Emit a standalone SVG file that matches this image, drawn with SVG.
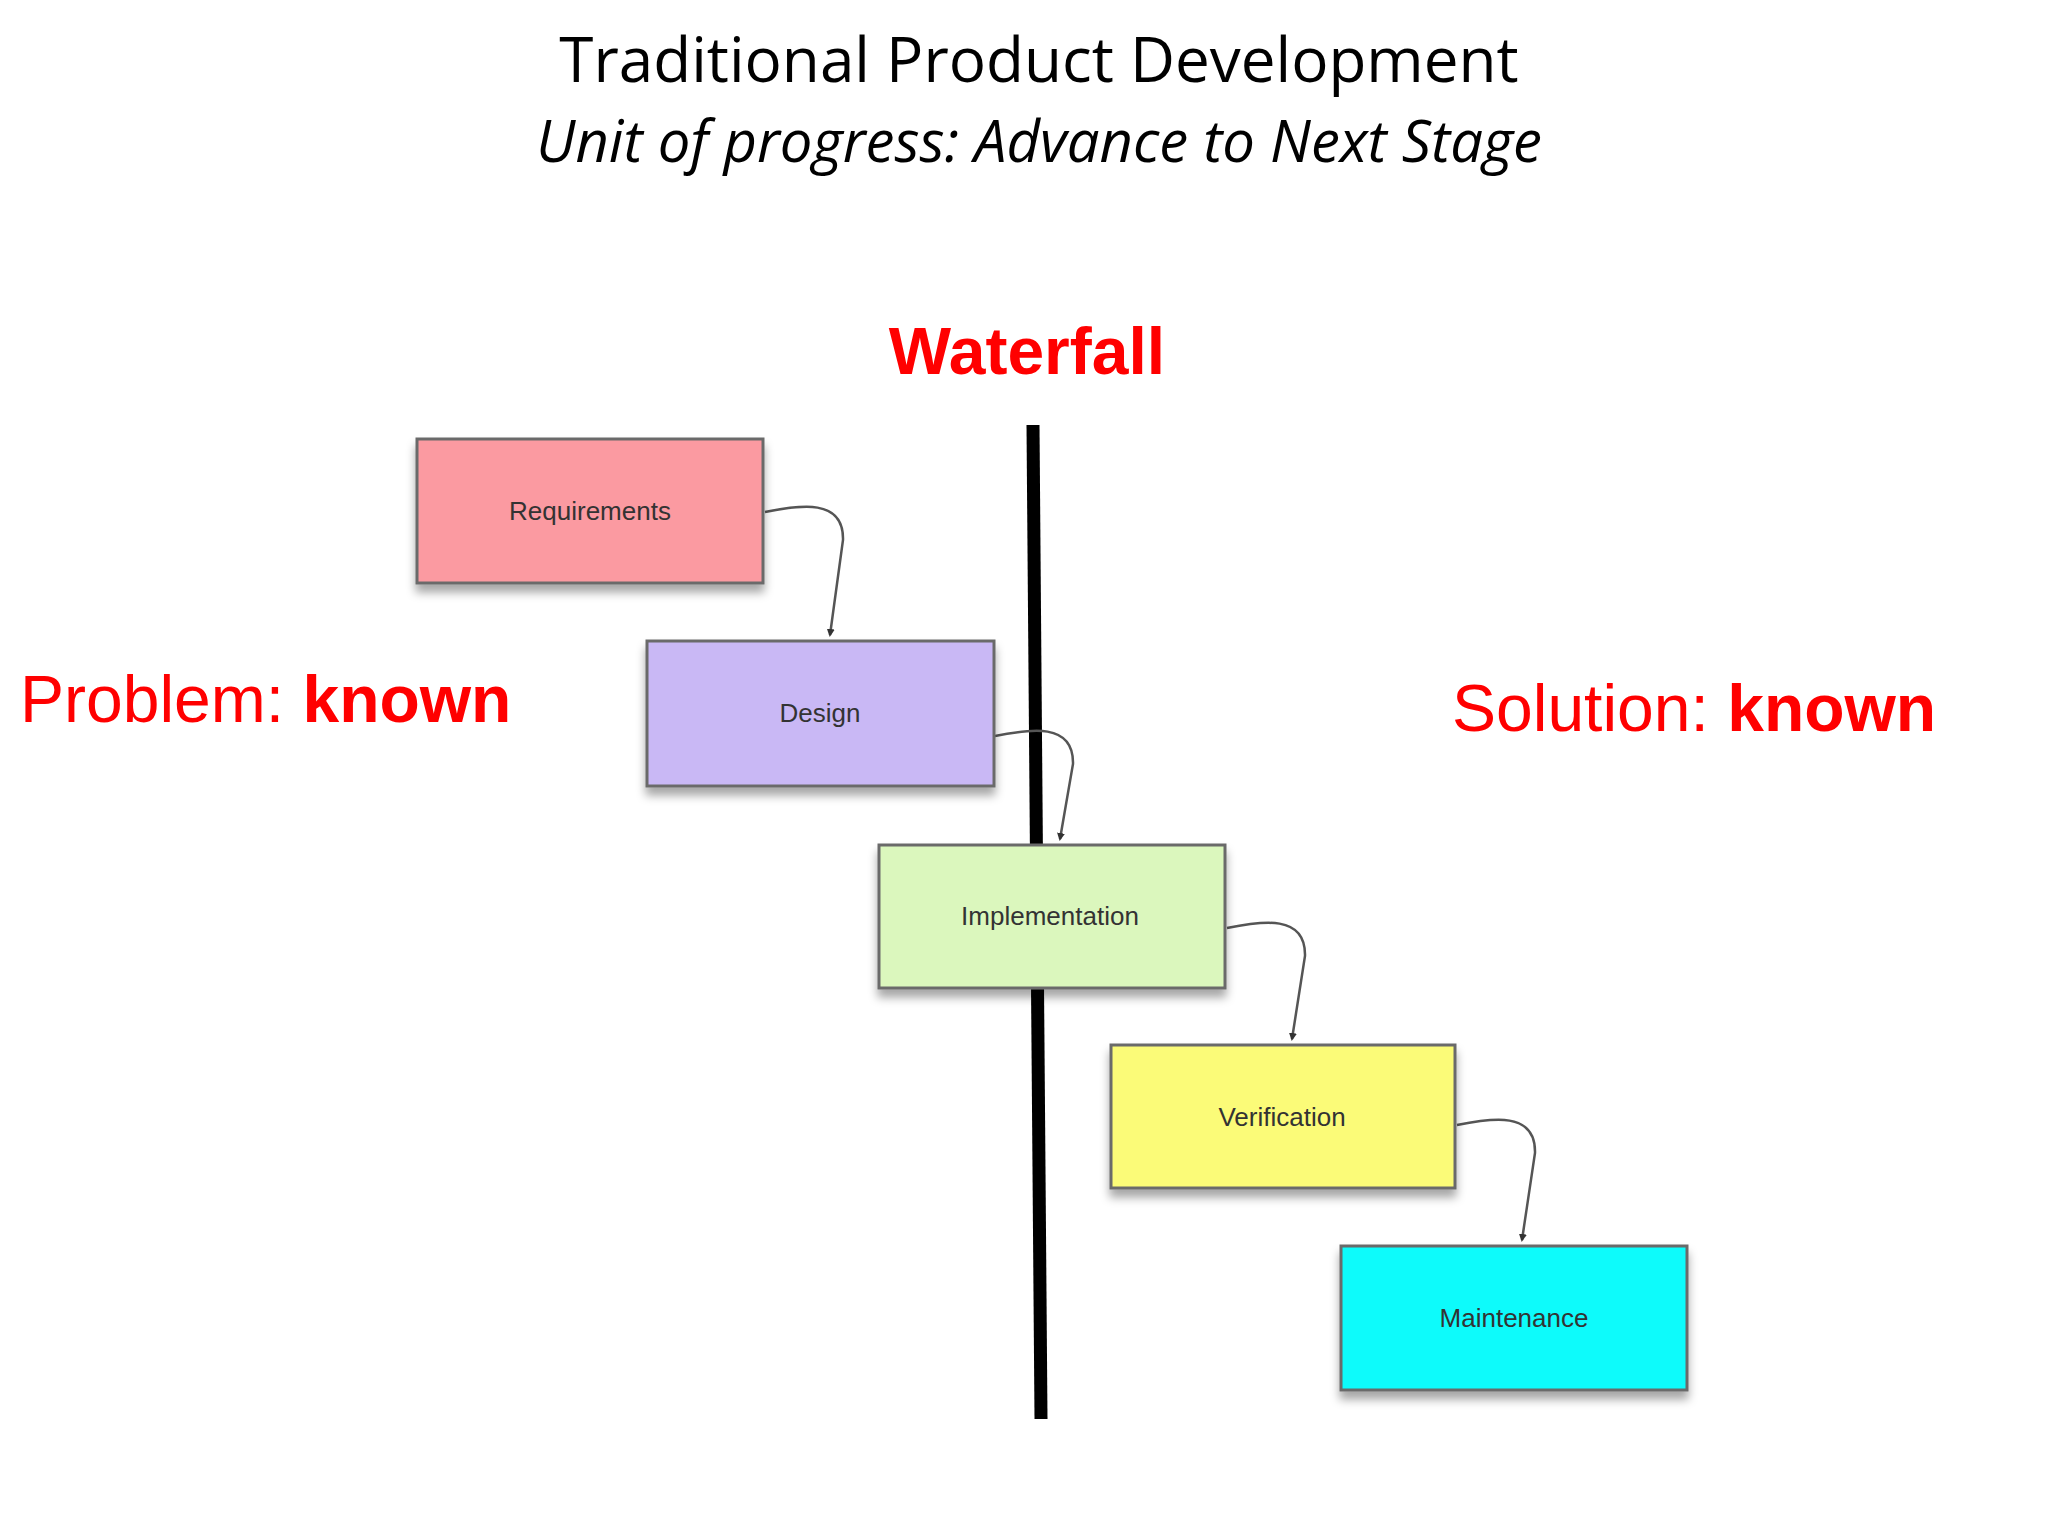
<svg xmlns="http://www.w3.org/2000/svg" width="2048" height="1536" viewBox="0 0 2048 1536">
<style>
.box{stroke:#6a6a6a;stroke-width:3;filter:url(#sh)}
.lbl{font-family:"Liberation Sans",Arial,sans-serif;font-size:26px;fill:#333;text-anchor:middle}
.red{font-family:"Liberation Sans",Arial,sans-serif;fill:#f00}
.con{fill:none;stroke:#555;stroke-width:2.5;marker-end:url(#ah)}
</style>
<defs>
<filter id="sh" x="-10%" y="-10%" width="130%" height="140%"><feDropShadow dx="0" dy="8" stdDeviation="5" flood-color="#000" flood-opacity="0.35"/></filter>
<marker id="ah" markerWidth="8" markerHeight="8" refX="6" refY="4" orient="auto" markerUnits="userSpaceOnUse"><path d="M0,0 L8,4 L0,8 z" fill="#333"/></marker>
</defs>
<rect width="2048" height="1536" fill="#fff"/>
<text x="1039" y="82" font-family="'Open Sans','Noto Sans',sans-serif" font-size="62" text-anchor="middle" fill="#000">Traditional Product Development</text>
<text x="1039" y="162" font-family="'Open Sans','Noto Sans',sans-serif" font-style="italic" font-size="58" text-anchor="middle" fill="#000">Unit of progress: Advance to Next Stage</text>
<text x="1027" y="374" class="red" font-weight="bold" font-size="66" text-anchor="middle">Waterfall</text>
<text x="20" y="722" class="red" font-size="66">Problem: <tspan font-weight="bold">known</tspan></text>
<text x="1452" y="731" class="red" font-size="66">Solution: <tspan font-weight="bold">known</tspan></text>
<line x1="1033" y1="425" x2="1041" y2="1419" stroke="#000" stroke-width="13"/>
<g id="connectors">
<path class="con" d="M765,512 C800,505 844,498 843,540 L830,635"/>
<path class="con" d="M995,736 C1030,729 1074,722 1073,764 L1060,839"/>
<path class="con" d="M1227,928 C1262,921 1306,914 1305,956 L1292,1039"/>
<path class="con" d="M1457,1125 C1492,1118 1536,1111 1535,1153 L1522,1240"/>
</g>
<g id="requirements"><rect class="box" x="417" y="439" width="346" height="144" fill="#fb9aa1"/><text class="lbl" x="590" y="520">Requirements</text></g>
<g id="design"><rect class="box" x="647" y="641" width="347" height="145" fill="#c9b8f5"/><text class="lbl" x="820" y="722">Design</text></g>
<g id="implementation"><rect class="box" x="879" y="845" width="346" height="143" fill="#dbf7bd"/><text class="lbl" x="1050" y="925">Implementation</text></g>
<g id="verification"><rect class="box" x="1111" y="1045" width="344" height="143" fill="#fbfb78"/><text class="lbl" x="1282" y="1126">Verification</text></g>
<g id="maintenance"><rect class="box" x="1341" y="1246" width="346" height="144" fill="#08fbfb"/><text class="lbl" x="1514" y="1327">Maintenance</text></g>
</svg>
